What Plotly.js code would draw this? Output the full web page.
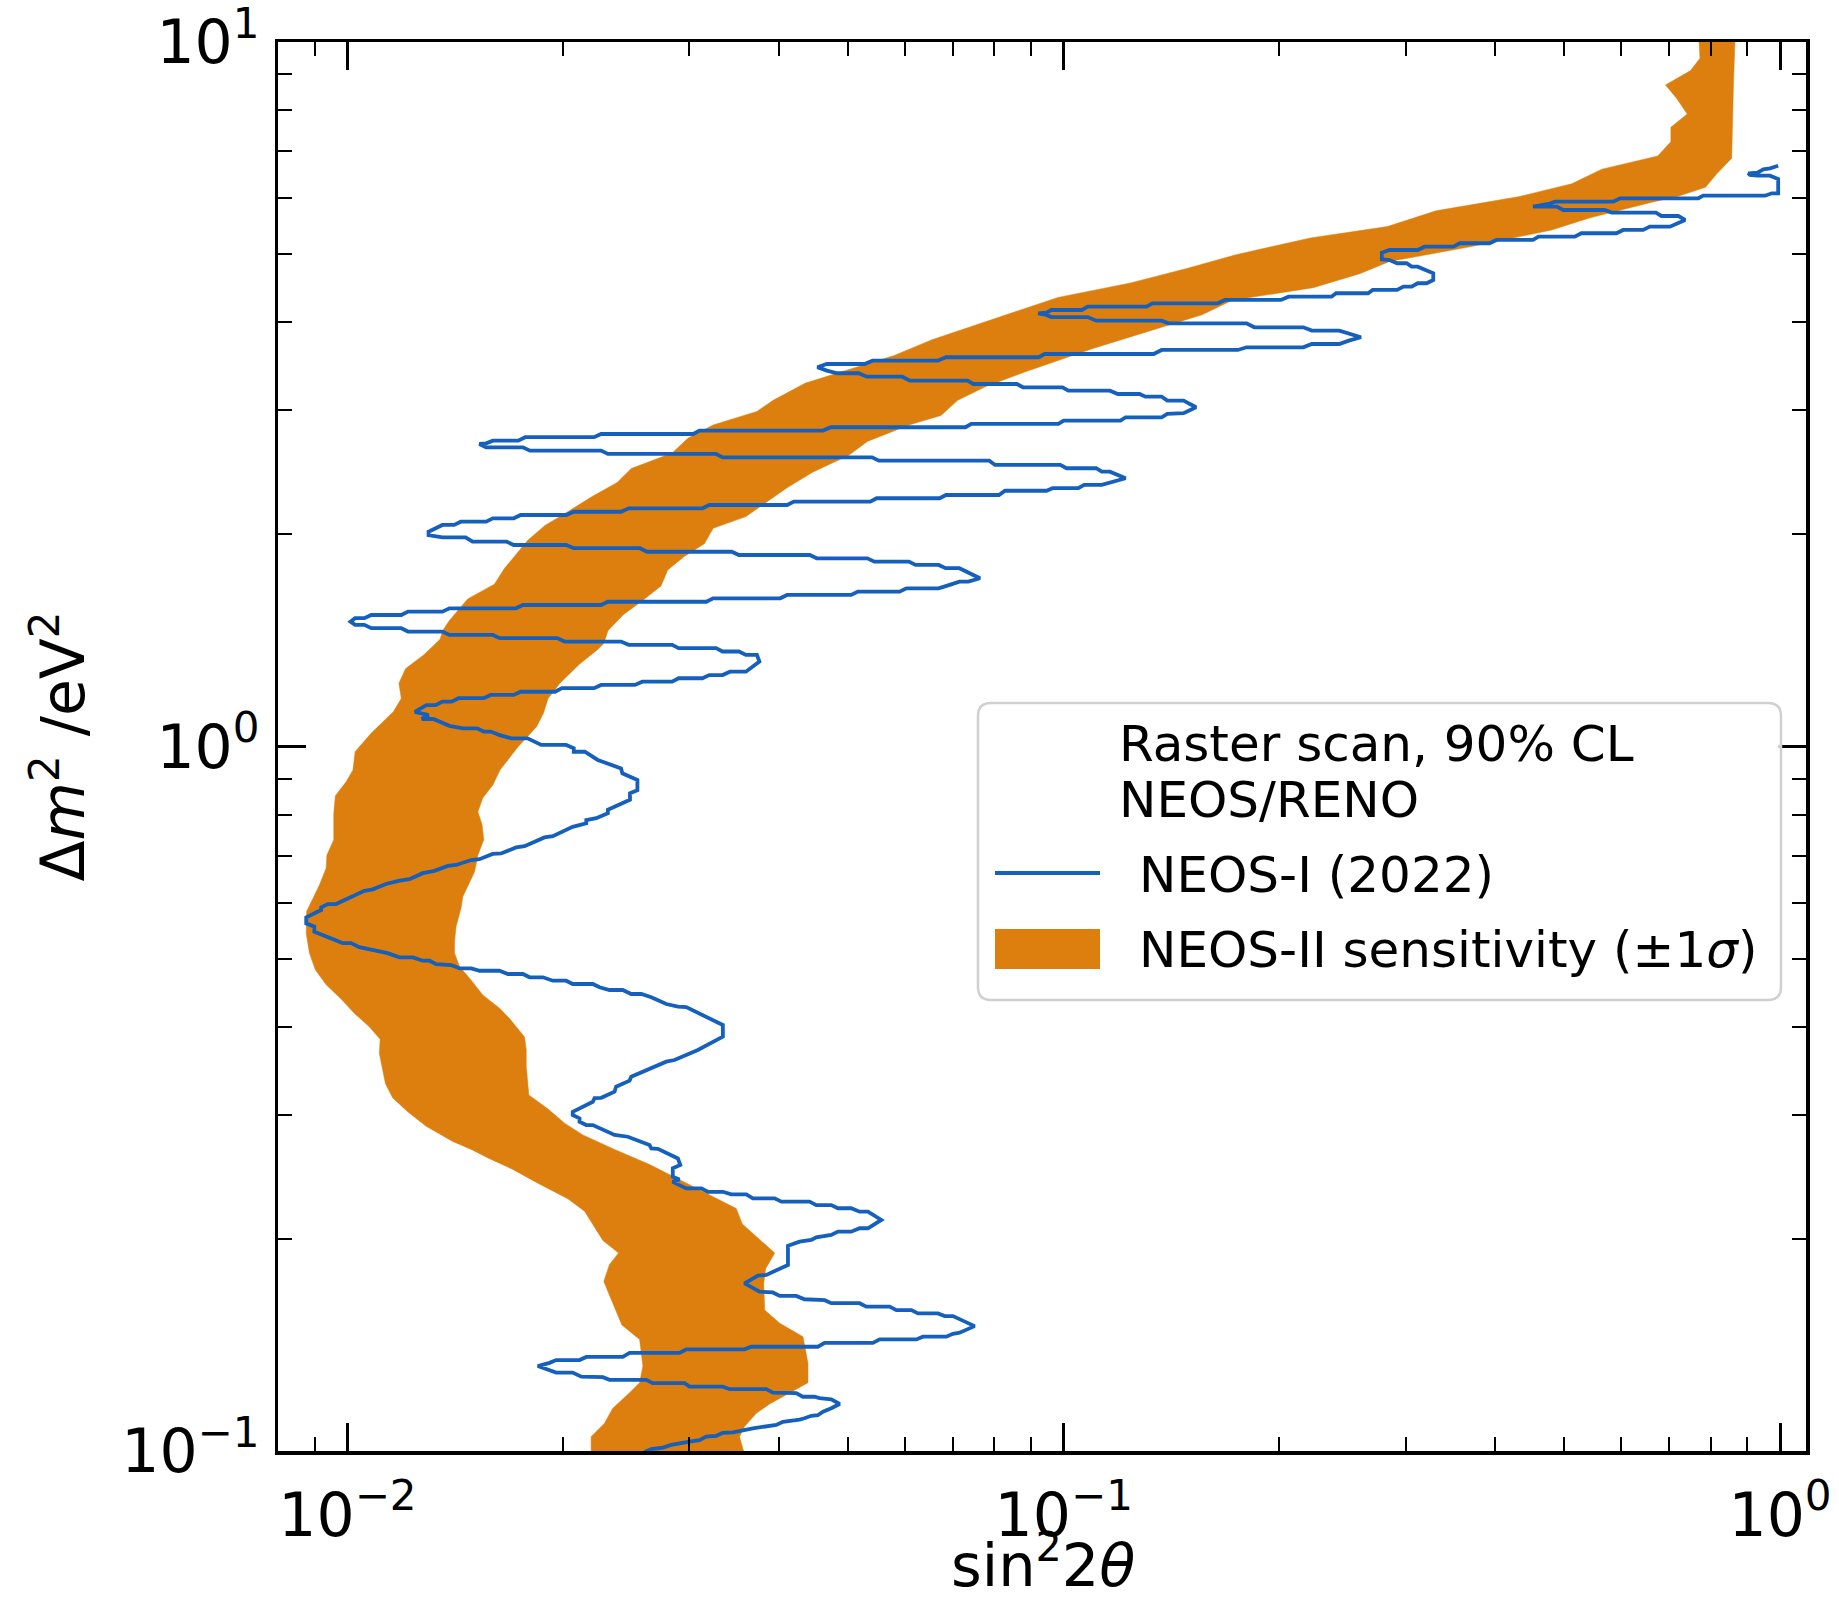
<!DOCTYPE html>
<html>
<head>
<meta charset="utf-8">
<script src="https://cdn.plot.ly/plotly-3.0.1.min.js"></script>
<style>
  html, body { margin: 0; padding: 0; background: #ffffff; }
  #chart { width: 1839px; height: 1602px; }
</style>
</head>
<body>
<div id="chart"></div>
<script>
// NEOS-II sensitivity band (±1σ): lower sin²2θ edge, read along Δm²
const sensLoDm2 = [10.0, 9.48, 9.107, 8.69, 8.32, 7.90, 7.57, 7.22, 6.89, 6.60,
  6.29, 6.03, 5.76, 5.47, 5.27, 4.99, 4.77, 4.55, 4.34, 3.97,
  3.78, 3.59, 3.28, 3.10, 2.99, 2.86, 2.74, 2.61, 2.48, 2.37,
  2.26, 2.14, 2.06, 1.96, 1.79, 1.70, 1.62, 1.51, 1.46, 1.42,
  1.35, 1.29, 1.23, 1.17, 1.12, 1.044, 0.983, 0.926, 0.891, 0.851,
  0.804, 0.737, 0.701, 0.672, 0.636, 0.583, 0.543, 0.509, 0.482, 0.459,
  0.438, 0.418, 0.400, 0.384, 0.367, 0.332, 0.317, 0.303, 0.289, 0.275,
  0.268, 0.260, 0.251, 0.240, 0.228, 0.219, 0.199, 0.191, 0.184, 0.174,
  0.162, 0.151, 0.144, 0.132, 0.125, 0.121, 0.115, 0.1095, 0.1048, 0.100];
const sensLoSin = [0.771, 0.773, 0.750, 0.692, 0.717, 0.742, 0.704, 0.704, 0.675, 0.564,
  0.512, 0.431, 0.331, 0.283, 0.221, 0.174, 0.1485, 0.124, 0.0982, 0.0758,
  0.0655, 0.0580, 0.0436, 0.0393, 0.0373, 0.0324, 0.0299, 0.0284, 0.0249, 0.0238,
  0.0219, 0.0201, 0.01887, 0.01784, 0.01657, 0.01604, 0.01472, 0.01388, 0.01358, 0.01347,
  0.01279, 0.01206, 0.01180, 0.01189, 0.01159, 0.01079, 0.01025, 0.01018, 0.00996, 0.00962,
  0.00957, 0.00957, 0.00936, 0.00934, 0.00914, 0.00877, 0.00876, 0.00885, 0.00902, 0.00934,
  0.00980, 0.01023, 0.01073, 0.01111, 0.01108, 0.01130, 0.01157, 0.01214, 0.01288, 0.01403,
  0.01489, 0.01579, 0.01702, 0.01844, 0.02031, 0.02143, 0.02273, 0.02391, 0.02322, 0.02280,
  0.02347, 0.02416, 0.02558, 0.02585, 0.02558, 0.02477, 0.02347, 0.02285, 0.02189, 0.02189];

// NEOS-II sensitivity band (±1σ): upper sin²2θ edge
const sensHiDm2 = [10.0, 8.74, 6.84, 6.50, 6.22, 6.03, 5.93, 5.63, 5.41, 5.12,
  4.88, 4.69, 4.48, 4.30, 4.10, 3.67, 3.40, 3.24, 3.10, 2.95,
  2.86, 2.71, 2.59, 2.45, 2.33, 2.23, 2.12, 2.04, 1.94, 1.86,
  1.78, 1.69, 1.61, 1.54, 1.46, 1.40, 1.37, 1.31, 1.23, 1.17,
  1.115, 1.067, 1.0, 0.926, 0.882, 0.845, 0.808, 0.774, 0.737, 0.701,
  0.664, 0.612, 0.592, 0.555, 0.528, 0.509, 0.487, 0.469, 0.444, 0.425,
  0.411, 0.387, 0.371, 0.351, 0.320, 0.306, 0.292, 0.281, 0.268, 0.255,
  0.241, 0.221, 0.210, 0.201, 0.191, 0.1816, 0.173, 0.1585, 0.1518, 0.1453,
  0.1332, 0.125, 0.121, 0.1166, 0.1131, 0.1083, 0.1048, 0.100];
const sensHiSin = [0.865, 0.861, 0.856, 0.816, 0.787, 0.717, 0.665, 0.543, 0.480, 0.369,
  0.285, 0.259, 0.223, 0.172, 0.156, 0.1096, 0.0882, 0.0777, 0.0711, 0.0674,
  0.0608, 0.0532, 0.0501, 0.0446, 0.0411, 0.0387, 0.0360, 0.0324, 0.0315, 0.0295,
  0.0280, 0.0274, 0.0258, 0.0243, 0.0231, 0.0228, 0.0223, 0.0211, 0.0198, 0.01906,
  0.01878, 0.01837, 0.01732, 0.01633, 0.01596, 0.01545, 0.01521, 0.01542, 0.01550, 0.01521,
  0.01505, 0.01449, 0.01442, 0.01418, 0.01411, 0.01411, 0.01434, 0.01481, 0.01545, 0.01631,
  0.01684, 0.01767, 0.01777, 0.01777, 0.01792, 0.01904, 0.02010, 0.02131, 0.02360, 0.02642,
  0.02940, 0.03490, 0.03558, 0.03741, 0.03950, 0.03837, 0.03812, 0.03824, 0.04014, 0.04325,
  0.04395, 0.04395, 0.04144, 0.03886, 0.03722, 0.03585, 0.03527, 0.03573];

// NEOS-I (2022) raster-scan 90% CL contour, traced from high Δm² downwards
const neosDm2 = [6.674, 6.618, 6.597, 6.524, 6.511, 6.475, 6.460, 6.460, 6.390, 6.099,
  6.099, 6.051, 6.051, 6.000, 6.000, 5.934, 5.934, 5.890, 5.838, 5.838,
  5.775, 5.775, 5.725, 5.725, 5.663, 5.663, 5.589, 5.469, 5.469, 5.410,
  5.410, 5.352, 5.352, 5.293, 5.293, 5.236, 5.236, 5.180, 5.180, 5.122,
  5.122, 5.067, 5.067, 5.022, 4.915, 4.904, 4.852, 4.852, 4.798, 4.798,
  4.696, 4.594, 4.545, 4.545, 4.495, 4.495, 4.447, 4.447, 4.399, 4.399,
  4.350, 4.350, 4.304, 4.304, 4.257, 4.257, 4.210, 4.210, 4.165, 4.165,
  4.129, 4.120, 4.098, 4.07, 4.07, 4.022, 4.022, 3.987, 3.987, 3.936,
  3.936, 3.893, 3.893, 3.851, 3.810, 3.768, 3.727, 3.727, 3.687, 3.687,
  3.655, 3.655, 3.607, 3.607, 3.569, 3.569, 3.529, 3.529, 3.491, 3.491,
  3.454, 3.416, 3.387, 3.387, 3.349, 3.349, 3.306, 3.306, 3.270, 3.270,
  3.235, 3.235, 3.199, 3.199, 3.165, 3.165, 3.137, 3.137, 3.097, 3.097,
  3.031, 2.972, 2.965, 2.933, 2.933, 2.901, 2.901, 2.870, 2.870, 2.839,
  2.839, 2.808, 2.808, 2.777, 2.777, 2.748, 2.748, 2.717, 2.717, 2.694,
  2.688, 2.659, 2.659, 2.630, 2.630, 2.602, 2.602, 2.573, 2.573, 2.545,
  2.545, 2.510, 2.510, 2.483, 2.483, 2.455, 2.455, 2.403, 2.364, 2.351,
  2.351, 2.326, 2.326, 2.307, 2.307, 2.275, 2.275, 2.251, 2.251, 2.226,
  2.226, 2.202, 2.202, 2.178, 2.178, 2.154, 2.154, 2.131, 2.131, 2.108,
  2.108, 2.085, 2.085, 2.063, 2.063, 2.018, 1.996, 1.981, 1.981, 1.953,
  1.953, 1.932, 1.932, 1.912, 1.912, 1.890, 1.890, 1.870, 1.870, 1.850,
  1.850, 1.830, 1.830, 1.810, 1.810, 1.791, 1.791, 1.733, 1.714, 1.714,
  1.696, 1.677, 1.677, 1.659, 1.659, 1.641, 1.641, 1.623, 1.623, 1.605,
  1.605, 1.588, 1.588, 1.571, 1.571, 1.554, 1.554, 1.537, 1.537, 1.521,
  1.521, 1.504, 1.488, 1.488, 1.472, 1.472, 1.456, 1.456, 1.440, 1.440,
  1.425, 1.425, 1.409, 1.409, 1.394, 1.394, 1.379, 1.379, 1.364, 1.364,
  1.349, 1.349, 1.320, 1.277, 1.277, 1.263, 1.263, 1.250, 1.250, 1.236,
  1.236, 1.223, 1.223, 1.210, 1.210, 1.196, 1.196, 1.1835, 1.1835, 1.171,
  1.171, 1.158, 1.158, 1.145, 1.145, 1.120, 1.108, 1.094, 1.094, 1.070,
  1.061, 1.061, 1.050, 1.050, 1.038, 1.027, 1.027, 1.005, 1.005, 0.994,
  0.983, 0.983, 0.957, 0.931, 0.916, 0.896, 0.867, 0.858, 0.840, 0.813,
  0.804, 0.791, 0.786, 0.778, 0.769, 0.746, 0.743, 0.722, 0.719, 0.705,
  0.704, 0.692, 0.690, 0.679, 0.677, 0.666, 0.661, 0.648, 0.645, 0.638,
  0.627, 0.624, 0.5975, 0.5975, 0.591, 0.586, 0.572, 0.561, 0.555, 0.546,
  0.526, 0.526, 0.519, 0.513, 0.509, 0.502, 0.502, 0.4965, 0.4965, 0.491,
  0.4896, 0.4843, 0.4843, 0.4805, 0.4805, 0.4754, 0.4754, 0.4703, 0.4703, 0.4651,
  0.4651, 0.4601, 0.4601, 0.4552, 0.4512, 0.4512, 0.4453, 0.4453, 0.4406, 0.4310,
  0.4272, 0.4266, 0.4024, 0.3874, 0.3709, 0.3589, 0.3570, 0.3399, 0.3355, 0.3290,
  0.3236, 0.3172, 0.3168, 0.3131, 0.3030, 0.2998, 0.2966, 0.2933, 0.2902, 0.2902,
  0.2809, 0.2793, 0.2763, 0.2718, 0.2689, 0.2685, 0.2602, 0.2546, 0.2519, 0.2450,
  0.2429, 0.2410, 0.2359, 0.2359, 0.2333, 0.2333, 0.2314, 0.2314, 0.2284, 0.2284,
  0.2259, 0.2259, 0.2234, 0.2234, 0.2211, 0.2211, 0.2186, 0.2186, 0.2128, 0.2071,
  0.2071, 0.2048, 0.2048, 0.2026, 0.2011, 0.1993, 0.1982, 0.1956, 0.1837, 0.1778,
  0.1774, 0.1730, 0.1683, 0.1679, 0.1660, 0.1660, 0.1642, 0.1637, 0.1621, 0.1621,
  0.1603, 0.1603, 0.1585, 0.1585, 0.1568, 0.1568, 0.1554, 0.1554, 0.1504, 0.1472,
  0.1467, 0.1453, 0.1453, 0.1440, 0.1440, 0.1424, 0.1424, 0.1406, 0.1406, 0.1394,
  0.1394, 0.1378, 0.1378, 0.1360, 0.1360, 0.1346, 0.1346, 0.1334, 0.1320, 0.1306,
  0.1292, 0.1292, 0.1275, 0.1273, 0.1262, 0.1262, 0.1248, 0.1248, 0.1234, 0.1234,
  0.1224, 0.1224, 0.1210, 0.1208, 0.1194, 0.1194, 0.1189, 0.1184, 0.1166, 0.1150,
  0.1137, 0.1124, 0.1122, 0.1113, 0.1108, 0.1100, 0.1089, 0.1077, 0.1071, 0.1063,
  0.1061, 0.1051, 0.1048, 0.1036, 0.1031, 0.1026, 0.1020, 0.1011, 0.1006, 0.0997];
const neosSin = [0.994, 0.968, 0.948, 0.930, 0.903, 0.908, 0.930, 0.968, 0.994, 0.994,
  0.974, 0.953, 0.781, 0.769, 0.598, 0.585, 0.485, 0.475, 0.452, 0.488,
  0.498, 0.569, 0.582, 0.671, 0.683, 0.721, 0.737, 0.702, 0.658, 0.644,
  0.604, 0.591, 0.528, 0.517, 0.460, 0.452, 0.402, 0.393, 0.357, 0.350,
  0.319, 0.312, 0.285, 0.278, 0.278, 0.285, 0.292, 0.301, 0.306, 0.312,
  0.328, 0.328, 0.321, 0.312, 0.306, 0.298, 0.292, 0.270, 0.266, 0.240,
  0.2365, 0.206, 0.201, 0.168, 0.164, 0.133, 0.1305, 0.108, 0.106, 0.0961,
  0.0946, 0.0921, 0.0946, 0.0961, 0.108, 0.111, 0.137, 0.140, 0.180, 0.1845,
  0.216, 0.222, 0.2425, 0.250, 0.260, 0.250, 0.2425, 0.222, 0.216, 0.180,
  0.175, 0.137, 0.1335, 0.0940, 0.0923, 0.0685, 0.0667, 0.0541, 0.0527, 0.0467,
  0.0453, 0.0467, 0.0483, 0.0517, 0.0531, 0.0595, 0.0610, 0.0734, 0.0748, 0.0860,
  0.0877, 0.0996, 0.1015, 0.116, 0.119, 0.1276, 0.130, 0.137, 0.1395, 0.147,
  0.153, 0.147, 0.1395, 0.137, 0.122, 0.120, 0.100, 0.0983, 0.0743, 0.0729,
  0.0473, 0.0461, 0.0310, 0.0304, 0.0226, 0.0221, 0.01771, 0.01732, 0.01596, 0.01562,
  0.01528, 0.01562, 0.01758, 0.01798, 0.0226, 0.0231, 0.0327, 0.0334, 0.0540, 0.0552,
  0.0787, 0.0802, 0.0989, 0.1009, 0.111, 0.113, 0.116, 0.122, 0.116, 0.113,
  0.1068, 0.1048, 0.0965, 0.0946, 0.0828, 0.0812, 0.0685, 0.0671, 0.0548, 0.0537,
  0.0420, 0.0411, 0.0320, 0.0313, 0.0247, 0.0241, 0.0207, 0.0202, 0.01745, 0.01707,
  0.01596, 0.01562, 0.0144, 0.01409, 0.01357, 0.01298, 0.01298, 0.01357, 0.01462, 0.01495,
  0.01669, 0.01707, 0.0202, 0.0207, 0.0256, 0.0262, 0.0344, 0.0352, 0.0442, 0.0452,
  0.0532, 0.0544, 0.0608, 0.0621, 0.0669, 0.0684, 0.0715, 0.0764, 0.0736, 0.0715,
  0.0693, 0.0669, 0.0603, 0.0590, 0.0516, 0.0505, 0.0411, 0.0402, 0.0324, 0.0317,
  0.0231, 0.0226, 0.01758, 0.01719, 0.01388, 0.01357, 0.01215, 0.01189, 0.01080, 0.01056,
  0.01025, 0.01010, 0.01025, 0.01056, 0.01080, 0.01189, 0.01215, 0.01357, 0.01388, 0.01596,
  0.01632, 0.01963, 0.0201, 0.0241, 0.0247, 0.0284, 0.0290, 0.0327, 0.0334, 0.0352,
  0.0360, 0.0373, 0.0376, 0.0360, 0.0342, 0.0334, 0.0320, 0.0313, 0.0290, 0.0284,
  0.0258, 0.0252, 0.0226, 0.0221, 0.01993, 0.01949, 0.01745, 0.01707, 0.01585, 0.01550,
  0.01429, 0.01398, 0.01357, 0.01328, 0.01289, 0.01242, 0.01298, 0.01270, 0.01318, 0.01388,
  0.01451, 0.01517, 0.01550, 0.01585, 0.01632, 0.01694, 0.01784, 0.01865, 0.0202, 0.0207,
  0.0207, 0.02145, 0.02236, 0.0241, 0.0242, 0.0254, 0.0254, 0.0248, 0.0248, 0.0231,
  0.0231, 0.02225, 0.02155, 0.02155, 0.02063, 0.01935, 0.01884, 0.01767, 0.01720, 0.01639,
  0.01595, 0.01529, 0.01489, 0.01418, 0.01381, 0.01323, 0.01274, 0.01221, 0.01182, 0.01132,
  0.01085, 0.01056, 0.00964, 0.00939, 0.00919, 0.00919, 0.00876, 0.00876, 0.00899, 0.00899,
  0.00985, 0.01012, 0.01039, 0.01097, 0.01138, 0.01182, 0.01234, 0.01274, 0.01302, 0.01330,
  0.01396, 0.01434, 0.01489, 0.01529, 0.01630, 0.01675, 0.01758, 0.01796, 0.01875, 0.01935,
  0.02020, 0.02063, 0.02201, 0.02249, 0.02322, 0.02423, 0.02490, 0.02572, 0.02656, 0.02787,
  0.02893, 0.02972, 0.03343, 0.03343, 0.03085, 0.02862, 0.02787, 0.02490, 0.02477, 0.02372,
  0.02360, 0.02261, 0.02213, 0.02201, 0.02063, 0.02063, 0.02109, 0.02109, 0.02155, 0.02201,
  0.02360, 0.02463, 0.02531, 0.02641, 0.02656, 0.02713, 0.02893, 0.02915, 0.02846, 0.02846,
  0.02908, 0.02845, 0.02972, 0.03119, 0.03185, 0.03343, 0.03434, 0.03604, 0.03681, 0.03948,
  0.04035, 0.04418, 0.04514, 0.04737, 0.04839, 0.0505, 0.05188, 0.05329, 0.05563, 0.05329,
  0.05188, 0.0505, 0.04839, 0.04737, 0.04514, 0.04442, 0.04278, 0.04121, 0.04121, 0.03844,
  0.03742, 0.03584, 0.03762, 0.03926, 0.04013, 0.04232, 0.04346, 0.04637, 0.04737, 0.05188,
  0.05301, 0.05714, 0.05839, 0.06128, 0.06259, 0.06675, 0.06820, 0.07004, 0.07509, 0.07156,
  0.07004, 0.06857, 0.06360, 0.06227, 0.05533, 0.05415, 0.04637, 0.04537, 0.03662, 0.03584,
  0.02972, 0.02908, 0.02477, 0.02423, 0.02155, 0.02109, 0.01956, 0.01915, 0.01844, 0.01895,
  0.01956, 0.02063, 0.02121, 0.02273, 0.02322, 0.02613, 0.02669, 0.02956, 0.03003, 0.03343,
  0.03416, 0.03844, 0.03926, 0.04232, 0.04322, 0.04488, 0.04561, 0.04737, 0.04866, 0.04737,
  0.04612, 0.04537, 0.04442, 0.04346, 0.04278, 0.04055, 0.03970, 0.03681, 0.03584, 0.03452,
  0.03343, 0.03273, 0.03169, 0.03101, 0.03003, 0.02925, 0.02832, 0.02757, 0.02656, 0.02599];

// Axis ticks and labels
const xTickVals = [0.01, 0.1, 1];
const xTickText = ['10<sup>\u22122</sup>', '10<sup>\u22121</sup>', '10<sup>0</sup>'];
const yTickVals = [0.1, 1, 10];
const yTickText = ['10<sup>\u22121</sup>', '10<sup>0</sup>', '10<sup>1</sup>'];
const xMinorVals = [0.008, 0.009, 0.02, 0.03, 0.04, 0.05, 0.06, 0.07, 0.08, 0.09,
  0.2, 0.3, 0.4, 0.5, 0.6, 0.7, 0.8, 0.9];
const yMinorVals = [0.2, 0.3, 0.4, 0.5, 0.6, 0.7, 0.8, 0.9, 2, 3, 4, 5, 6, 7, 8, 9];
const xLimits = [0.008, 1.087];
const yLimits = [0.1, 10];
const xTitle = 'sin<sup>2</sup>2<i>\u03b8</i>';
const yTitle = '\u0394<i>m</i><sup>2</sup> /eV<sup>2</sup>';

// Legend text
const legendTitle = ['Raster scan, 90% CL', 'NEOS/RENO'];
const legendLabels = ['NEOS-I (2022)', 'NEOS-II sensitivity (\u00b11<i>\u03c3</i>)'];

const ORANGE = '#dc7f0f';
const BLUE = '#1560bd';
const FONT = 'DejaVu Sans, Verdana, sans-serif';
const LINE_W = 3.8;

// Plot frame in pixels
const FIG_W = 1839, FIG_H = 1602;
const M = { l: 278, r: 33, t: 42, b: 151 };
const PW = FIG_W - M.l - M.r, PH = FIG_H - M.t - M.b;
const px = p => (p - M.l) / PW;          // pixel x -> paper x
const py = p => (M.t + PH - p) / PH;     // pixel y -> paper y

// Closed band polygon: lower edge downwards, then upper edge back up
const bandX = sensLoSin.concat(sensHiSin.slice().reverse());
const bandY = sensLoDm2.concat(sensHiDm2.slice().reverse());

const traces = [
  {
    x: bandX, y: bandY, type: 'scatter', mode: 'lines',
    fill: 'toself', fillcolor: ORANGE,
    line: { color: ORANGE, width: 0.5 },
    hoverinfo: 'skip', showlegend: false
  },
  {
    x: neosSin, y: neosDm2, type: 'scatter', mode: 'lines',
    line: { color: BLUE, width: LINE_W },
    hoverinfo: 'skip', showlegend: false
  }
];

const axisCommon = {
  type: 'log',
  tickmode: 'array',
  ticks: 'inside', ticklen: 28, tickwidth: 3, tickcolor: '#000',
  showline: true, linecolor: '#000', linewidth: 3.5,
  mirror: 'allticks',
  showgrid: false, zeroline: false,
  ticklabeloverflow: 'allow',
  tickfont: { family: FONT, size: 60, color: '#000' },
  automargin: false
};

// Legend frame with rounded corners (pixel box -> paper path)
const box = { x0: 978, x1: 1781, y0: 703, y1: 1000, r: 13 };
function roundedPath(b) {
  const X0 = px(b.x0), X1 = px(b.x1), Yt = py(b.y0), Yb = py(b.y1);
  const rx = b.r / PW, ry = b.r / PH;
  return `M ${X0 + rx},${Yt} L ${X1 - rx},${Yt} Q ${X1},${Yt} ${X1},${Yt - ry} ` +
    `L ${X1},${Yb + ry} Q ${X1},${Yb} ${X1 - rx},${Yb} L ${X0 + rx},${Yb} ` +
    `Q ${X0},${Yb} ${X0},${Yb + ry} L ${X0},${Yt - ry} Q ${X0},${Yt} ${X0 + rx},${Yt} Z`;
}

const shapes = [
  {
    type: 'path', xref: 'paper', yref: 'paper', path: roundedPath(box),
    fillcolor: 'rgba(255,255,255,0.8)', line: { color: '#d0d0d0', width: 2.5 }, layer: 'above'
  },
  {
    type: 'line', xref: 'paper', yref: 'paper',
    x0: px(995), x1: px(1100), y0: py(873), y1: py(873),
    line: { color: BLUE, width: LINE_W }, layer: 'above'
  },
  {
    type: 'rect', xref: 'paper', yref: 'paper',
    x0: px(995), x1: px(1100), y0: py(969), y1: py(929),
    fillcolor: ORANGE, line: { width: 0 }, layer: 'above'
  }
];

const legendFont = { family: FONT, size: 50, color: '#000' };
function legendText(text, left, baseline) {
  return {
    text: text, xref: 'paper', yref: 'paper',
    x: px(left), y: py(baseline - 17),
    xanchor: 'left', yanchor: 'middle', showarrow: false,
    font: legendFont, align: 'left'
  };
}
const annotations = [
  legendText(legendTitle[0], 1117, 761),
  legendText(legendTitle[1], 1117, 817),
  legendText(legendLabels[0], 1137, 892),
  legendText(legendLabels[1], 1137, 967),
  // x-axis title, resting on the lower figure edge
  {
    text: xTitle, xref: 'paper', yref: 'paper',
    x: px(1043), y: py(1601), xanchor: 'center', yanchor: 'bottom',
    borderpad: 0,
    showarrow: false, font: { family: FONT, size: 59, color: '#000' }
  }
];

const layout = {
  width: FIG_W, height: FIG_H,
  margin: M,
  paper_bgcolor: '#ffffff', plot_bgcolor: '#ffffff',
  showlegend: false,
  font: { family: FONT, color: '#000' },
  xaxis: Object.assign({}, axisCommon, {
    range: [Math.log10(xLimits[0]), Math.log10(xLimits[1])],
    tickvals: xTickVals, ticktext: xTickText,
    ticklabelstandoff: 9,
    minor: { tickmode: 'array', tickvals: xMinorVals, ticks: 'inside', ticklen: 14, tickwidth: 2, tickcolor: '#000', showgrid: false }
  }),
  yaxis: Object.assign({}, axisCommon, {
    range: [Math.log10(yLimits[0]), Math.log10(yLimits[1])],
    tickvals: yTickVals, ticktext: yTickText,
    ticklabelstandoff: 3,
    minor: { tickmode: 'array', tickvals: yMinorVals, ticks: 'inside', ticklen: 14, tickwidth: 2, tickcolor: '#000', showgrid: false },
    title: { text: yTitle, font: { family: FONT, size: 60, color: '#000' }, standoff: 18 }
  }),
  shapes: shapes,
  annotations: annotations
};

Plotly.newPlot('chart', traces, layout, { displayModeBar: false, staticPlot: true });
</script>
</body>
</html>
